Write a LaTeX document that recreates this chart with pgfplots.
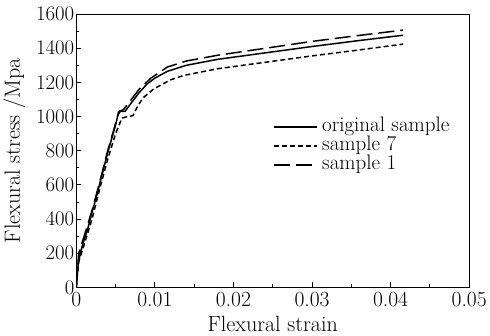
\documentclass[border=0pt]{standalone}
\usepackage{pgfplots}
\pgfplotsset{compat=1.18}
\begin{document}
\begin{tikzpicture}
\begin{axis}[
  scale only axis, width=391bp, height=272bp,
  xmin=0, xmax=0.05, ymin=0, ymax=1600,
  scaled x ticks=false, scaled y ticks=false,
  xtick={0,0.01,0.02,0.03,0.04,0.05},
  xticklabels={0,0.01,0.02,0.03,0.04,0.05},
  ytick={0,200,...,1600},
  yticklabel style={/pgf/number format/1000 sep={}},
  minor x tick num=1, minor y tick num=1,
  xtick pos=bottom, ytick pos=left,
  tick align=inside,
  major tick length=5pt, minor tick length=3pt,
  axis line style={line width=1pt},
  every tick/.style={line width=0.8pt, black},
  tick label style={font=\fontsize{21.5}{22}\selectfont},
  label style={font=\fontsize{22}{23}\selectfont},
  xlabel={Flexural strain},
  ylabel={Flexural stress /Mpa},
  xlabel style={yshift=-3pt},
  ylabel style={yshift=4pt},
  xticklabel style={yshift=-1pt},
  yticklabel style={xshift=1.5pt},
  legend style={draw=none, fill=none, at={(0.501,0.623)}, anchor=north west,
    font=\fontsize{21}{20}\selectfont, row sep=0pt, inner sep=0pt,
    nodes={inner xsep=4pt, inner ysep=0pt, text height=14pt, text depth=5pt}},
  legend cell align=left,
  legend image code/.code={\draw[#1] (0cm,0cm) -- (0.6in,0cm);},
]
\addplot[black, line width=1.5pt] coordinates {
(0,0)(0.0002,120)(0.0005,200)(0.0010,280)(0.0015,350)(0.002,440)(0.0025,520)(0.003,610)(0.0035,700)(0.004,790)(0.0045,870)(0.005,950)(0.0053,1010)(0.0056,1030)(0.0062,1030)(0.007,1080)(0.008,1140)(0.009,1190)(0.010,1225)(0.0116,1265)(0.014,1300)(0.018,1335)(0.0244,1375)(0.03,1410)(0.036,1445)(0.0416,1476)
};
\addlegendentry{original sample}
\addplot[black, line width=1.5pt, dash pattern=on 5pt off 3pt] coordinates {
(0,0)(0.0003,150)(0.001,250)(0.002,400)(0.003,580)(0.004,750)(0.005,900)(0.0058,990)(0.0065,1000)(0.0072,1005)(0.0078,1060)(0.0085,1110)(0.0099,1163)(0.012,1215)(0.0137,1241)(0.018,1280)(0.0244,1320)(0.03,1355)(0.036,1390)(0.0416,1424)
};
\addlegendentry{sample 7}
\addplot[black, line width=1.5pt, dash pattern=on 16pt off 6pt] coordinates {
(0,0)(0.0003,200)(0.001,300)(0.002,450)(0.003,620)(0.004,800)(0.005,960)(0.0054,1030)(0.006,1040)(0.007,1100)(0.008,1160)(0.0095,1225)(0.0116,1290)(0.014,1325)(0.018,1359)(0.0244,1402)(0.03,1440)(0.036,1475)(0.0416,1506)
};
\addlegendentry{sample 1}
\end{axis}
\path ([yshift=14bp]current axis.north);
\end{tikzpicture}
\end{document}
